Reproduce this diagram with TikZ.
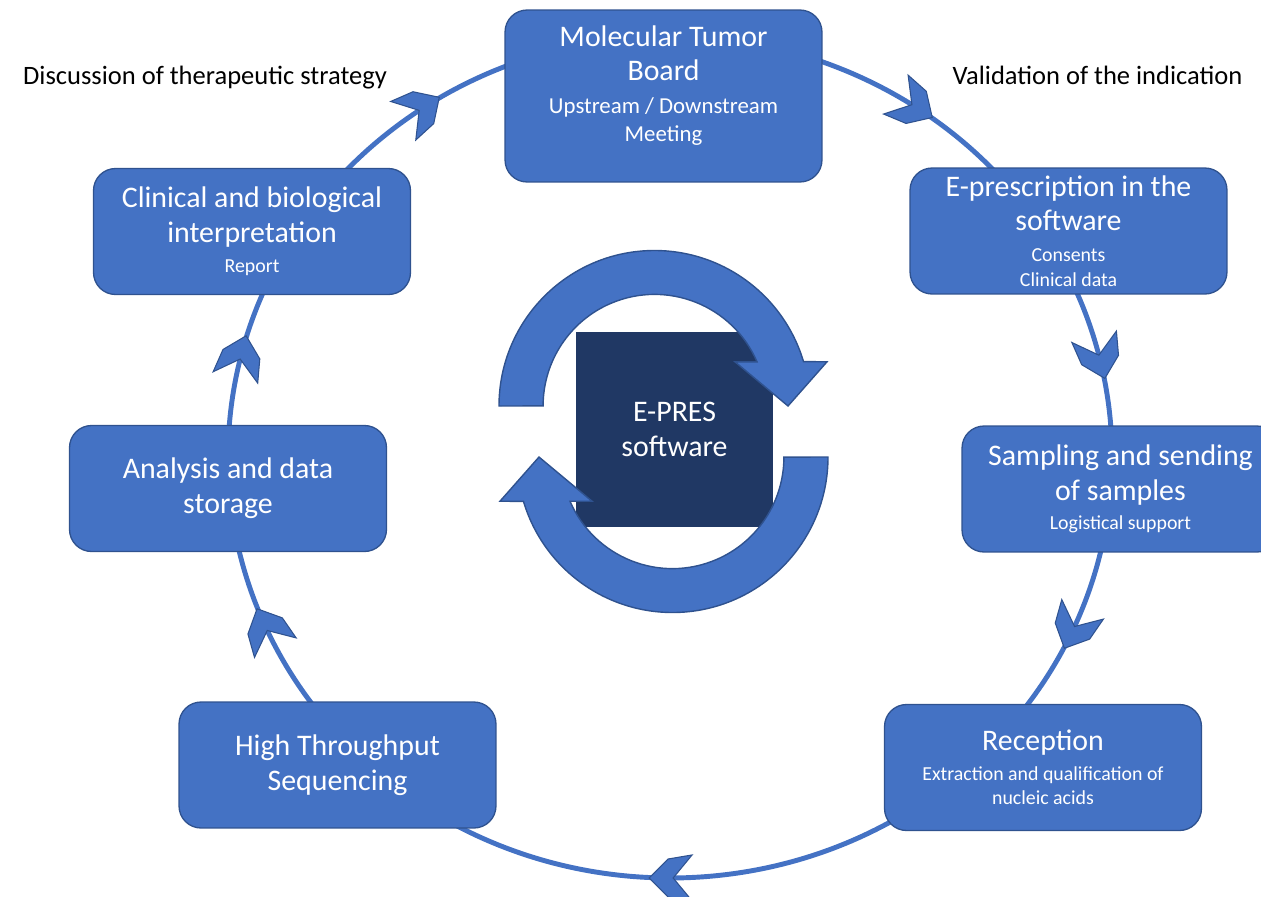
\documentclass[tikz,border=0pt]{standalone}
\usepackage{fontspec}
\setmainfont{Carlito}
\usetikzlibrary{decorations.markings}

\definecolor{boxblue}{HTML}{4472C4}
\definecolor{edgeblue}{HTML}{2F528F}
\definecolor{epresnavy}{HTML}{203864}

\newcommand\bigtxt{\fontsize{17pt}{19.8pt}\selectfont}
\newcommand\subtxt{\fontsize{11.3pt}{14.2pt}\selectfont}
\newcommand\subbig{\fontsize{13pt}{15.9pt}\selectfont}
\newcommand\lbltxt{\fontsize{15.1pt}{18pt}\selectfont}
\newcommand\chev{\filldraw[fill=boxblue,draw=edgeblue,line width=0.6pt]
  (22,0) -- (3,19) -- (-21,23) -- (-2,0) -- (-21,-23) -- (3,-19) -- cycle;}

\tikzset{
  stepbox/.style={draw=edgeblue, line width=0.75pt, fill=boxblue, rounded corners=0.44cm,
    minimum width=6.34cm, minimum height=2.52cm, inner sep=0pt, text=white,
    align=center, font=\bigtxt},
  cycarc/.style={draw=boxblue, line width=2.8pt, postaction=decorate,
    decoration={markings, mark=at position 0.5 with {\chev}}},
  ringarrow/.style={fill=boxblue, draw=edgeblue, line width=0.8pt},
  outlbl/.style={font=\lbltxt, anchor=base, inner sep=0pt}
}

\begin{document}
\begin{tikzpicture}[x=0.02cm, y=-0.02cm]
  \useasboundingbox (0,0) rectangle (1261,896);
  \clip (0,0) rectangle (1261,896);
  \coordinate (cyc) at (670,457);
  \draw[cycarc] ([shift={(-72.7:442 and 421)}]cyc) arc[start angle=-72.7, end angle=-40.2, x radius=442, y radius=421];
  \draw[cycarc] ([shift={(-25.4:442 and 421)}]cyc) arc[start angle=-25.4, end angle=-2, x radius=442, y radius=421];
  \draw[cycarc] ([shift={(9.6:442 and 421)}]cyc) arc[start angle=9.6, end angle=38.3, x radius=442, y radius=421];
  \draw[cycarc] ([shift={(57:442 and 421)}]cyc) arc[start angle=57, end angle=122.7, x radius=442, y radius=421];
  \draw[cycarc] ([shift={(142:442 and 421)}]cyc) arc[start angle=142, end angle=170, x radius=442, y radius=421];
  \draw[cycarc] ([shift={(181.6:442 and 421)}]cyc) arc[start angle=181.6, end angle=205.8, x radius=442, y radius=421];
  \draw[cycarc] ([shift={(220.6:442 and 421)}]cyc) arc[start angle=220.6, end angle=250.6, x radius=442, y radius=421];

  \node[stepbox, minimum height=3.44cm] (mtb) at (663.5,96)
    {Molecular Tumor\\Board\\[-1.1pt]{\subbig Upstream / Downstream}\\[-3.9pt]{\subbig Meeting\rule[-0.5cm]{0pt}{0pt}}};
  \node[stepbox] (eprescription) at (1068.5,231)
    {E-prescription in the\\software\\[-2.3pt]{\subtxt Consents}\\[-5.7pt]{\subtxt Clinical data}};
  \node[stepbox] (sampling) at (1120.5,489)
    {Sampling and sending\\of samples\\[-2.8pt]{\subtxt Logistical support}};
  \node[stepbox] (reception) at (1043,767.5)
    {Reception\\[-2.8pt]{\subtxt Extraction and qualification of}\\[-6.2pt]{\subtxt nucleic acids}};
  \node[stepbox] (hts) at (337.5,765) {High Throughput\\Sequencing};
  \node[stepbox] (analysis) at (228,488.5) {Analysis and data\\storage};
  \node[stepbox] (clinical) at (252,231.5)
    {Clinical and biological\\interpretation\\[-2.8pt]{\subtxt Report}};

  \node[fill=epresnavy, minimum width=3.94cm, minimum height=3.9cm, text=white,
    align=center, font=\bigtxt] (epres) at (674.5,429.5) {E-PRES\\software};
  \begin{scope}[shift={(654.5,406)}]
    \filldraw[ringarrow] (-155.5,0) arc[start angle=-180, end angle=-16.6, radius=155.5]
      -- (172.5,-44.2) -- (133.5,0) -- (80.5,-44.2) -- (102.5,-44.2)
      arc[start angle=-23.3, end angle=-180, radius=111.5] -- cycle;
  \end{scope}
  \begin{scope}[shift={(672.5,457)}, rotate=180]
    \filldraw[ringarrow] (-155.5,0) arc[start angle=-180, end angle=-16.6, radius=155.5]
      -- (172.5,-44.2) -- (133.5,0) -- (80.5,-44.2) -- (102.5,-44.2)
      arc[start angle=-23.3, end angle=-180, radius=111.5] -- cycle;
  \end{scope}

  \node[outlbl] (discussion) at (205,84) {Discussion of therapeutic strategy};
  \node[outlbl] (validation) at (1097.5,84) {Validation of the indication};
\end{tikzpicture}
\end{document}
